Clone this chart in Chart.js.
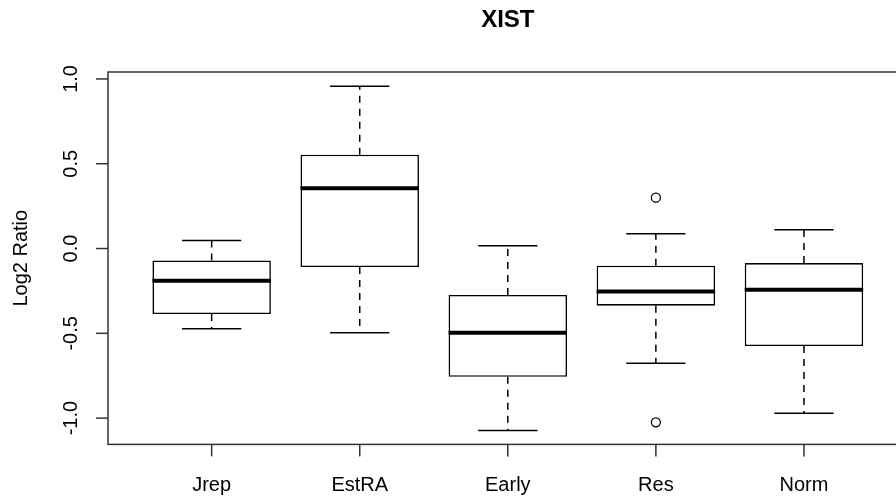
<!DOCTYPE html>
<html>
<head>
<meta charset="utf-8">
<script src="https://cdn.jsdelivr.net/npm/chart.js@4/dist/chart.umd.min.js"></script>
<style>
  html, body { margin: 0; padding: 0; background: #fff; overflow: hidden; }
  #wrap { width: 960px; height: 498px; }
</style>
</head>
<body>
<div id="wrap"><canvas id="c" width="960" height="498"></canvas></div>
<script>
// Boxplot summary of XIST log2 ratios per group
const categories  = ['Jrep', 'EstRA', 'Early', 'Res', 'Norm'];
const whiskerLow  = [-0.473, -0.497, -1.073, -0.677, -0.971];
const lowerQuart  = [-0.386, -0.109, -0.756, -0.337, -0.575];
const medians     = [-0.190,  0.355, -0.497, -0.253, -0.243];
const upperQuart  = [-0.070,  0.553, -0.274, -0.101, -0.086];
const whiskerHigh = [ 0.048,  0.957,  0.017,  0.087,  0.111];
const outlierGroup = [4, 4];          // 1-based group position
const outlierValue = [0.300, -1.025];
const yTicks = [-1.0, -0.5, 0.0, 0.5, 1.0];
const yTickLabels = ['-1.0', '-0.5', '0.0', '0.5', '1.0'];

const FONT = '"Liberation Sans", Arial, sans-serif';
const BOX_WIDTH = 0.8;   // in group units
const CAP_WIDTH = 0.4;

const boxplotExtras = {
  id: 'boxplotExtras',
  afterDatasetsDraw(chart) {
    const ctx = chart.ctx;
    const xs = chart.scales.x, ys = chart.scales.y;
    ctx.save();
    ctx.strokeStyle = '#000';
    categories.forEach((c, i) => {
      const cx = xs.getPixelForValue(i + 1);
      const halfBox = (xs.getPixelForValue(i + 1 + BOX_WIDTH / 2) - cx);
      const halfCap = (xs.getPixelForValue(i + 1 + CAP_WIDTH / 2) - cx);
      // dashed whiskers
      ctx.lineWidth = 1.5;
      ctx.setLineDash([7, 6]);
      ctx.beginPath();
      ctx.moveTo(cx, ys.getPixelForValue(upperQuart[i]));
      ctx.lineTo(cx, ys.getPixelForValue(whiskerHigh[i]));
      ctx.moveTo(cx, ys.getPixelForValue(lowerQuart[i]));
      ctx.lineTo(cx, ys.getPixelForValue(whiskerLow[i]));
      ctx.stroke();
      // whisker caps
      ctx.setLineDash([]);
      ctx.beginPath();
      [whiskerHigh[i], whiskerLow[i]].forEach(v => {
        const y = ys.getPixelForValue(v);
        ctx.moveTo(cx - halfCap, y);
        ctx.lineTo(cx + halfCap, y);
      });
      ctx.stroke();
      // median
      ctx.lineWidth = 4;
      ctx.lineCap = 'butt';
      ctx.beginPath();
      const my = ys.getPixelForValue(medians[i]);
      ctx.moveTo(cx - halfBox, my);
      ctx.lineTo(cx + halfBox, my);
      ctx.stroke();
    });
    ctx.restore();
  },
  afterDraw(chart) {
    const ctx = chart.ctx;
    const xs = chart.scales.x, ys = chart.scales.y;
    const a = chart.chartArea;
    ctx.save();
    // plot frame
    ctx.strokeStyle = '#333';
    ctx.lineWidth = 1.5;
    ctx.strokeRect(a.left, a.top, a.right - a.left, a.bottom - a.top);
    // y axis ticks and rotated labels
    ctx.fillStyle = '#000';
    ctx.font = '20px ' + FONT;
    yTicks.forEach((v, k) => {
      const y = ys.getPixelForValue(v);
      ctx.beginPath();
      ctx.moveTo(a.left, y);
      ctx.lineTo(a.left - 12, y);
      ctx.stroke();
      ctx.save();
      ctx.translate(a.left - 31, y);
      ctx.rotate(-Math.PI / 2);
      ctx.textAlign = 'center';
      ctx.textBaseline = 'alphabetic';
      ctx.fillText(yTickLabels[k], 0, 0);
      ctx.restore();
    });
    // x axis ticks and group labels
    categories.forEach((c, i) => {
      const x = xs.getPixelForValue(i + 1);
      ctx.beginPath();
      ctx.moveTo(x, a.bottom);
      ctx.lineTo(x, a.bottom + 12);
      ctx.stroke();
      ctx.textAlign = 'center';
      ctx.textBaseline = 'alphabetic';
      ctx.fillText(c, x, a.bottom + 47);
    });
    // y axis title
    ctx.save();
    ctx.translate(27, (a.top + a.bottom) / 2);
    ctx.rotate(-Math.PI / 2);
    ctx.textAlign = 'center';
    ctx.textBaseline = 'alphabetic';
    ctx.fillText('Log2 Ratio', 0, 0);
    ctx.restore();
    ctx.restore();
  }
};

new Chart(document.getElementById('c'), {
  type: 'bar',
  data: {
    datasets: [
      {
        label: 'box',
        data: categories.map((c, i) => ({ x: i + 1, y: [lowerQuart[i], upperQuart[i]] })),
        backgroundColor: '#fff',
        borderColor: '#000',
        borderWidth: 1.6,
        borderSkipped: false,
        barPercentage: BOX_WIDTH,
        categoryPercentage: 1.0
      },
      {
        type: 'scatter',
        label: 'outliers',
        data: outlierGroup.map((g, k) => ({ x: g, y: outlierValue[k] })),
        showLine: false,
        pointStyle: 'circle',
        pointRadius: 4.5,
        pointBorderWidth: 1.3,
        pointBorderColor: '#000',
        pointBackgroundColor: 'rgba(255,255,255,0)'
      }
    ]
  },
  options: {
    responsive: false,
    animation: false,
    layout: { padding: { left: 108, right: 52.4, top: 0, bottom: 53.6 } },
    scales: {
      x: {
        type: 'linear', min: 0.3, max: 5.7, offset: false, display: false,
        ticks: { stepSize: 1, includeBounds: false }
      },
      y: { type: 'linear', min: -1.155, max: 1.041, display: false }
    },
    plugins: {
      legend: { display: false },
      tooltip: { enabled: false },
      title: {
        display: true,
        text: 'XIST',
        fullSize: false,
        color: '#000',
        font: { family: FONT, size: 24, weight: 'bold', lineHeight: 1.2 },
        padding: { top: 6, bottom: 37.2 }
      }
    }
  },
  plugins: [boxplotExtras]
});
</script>
</body>
</html>
